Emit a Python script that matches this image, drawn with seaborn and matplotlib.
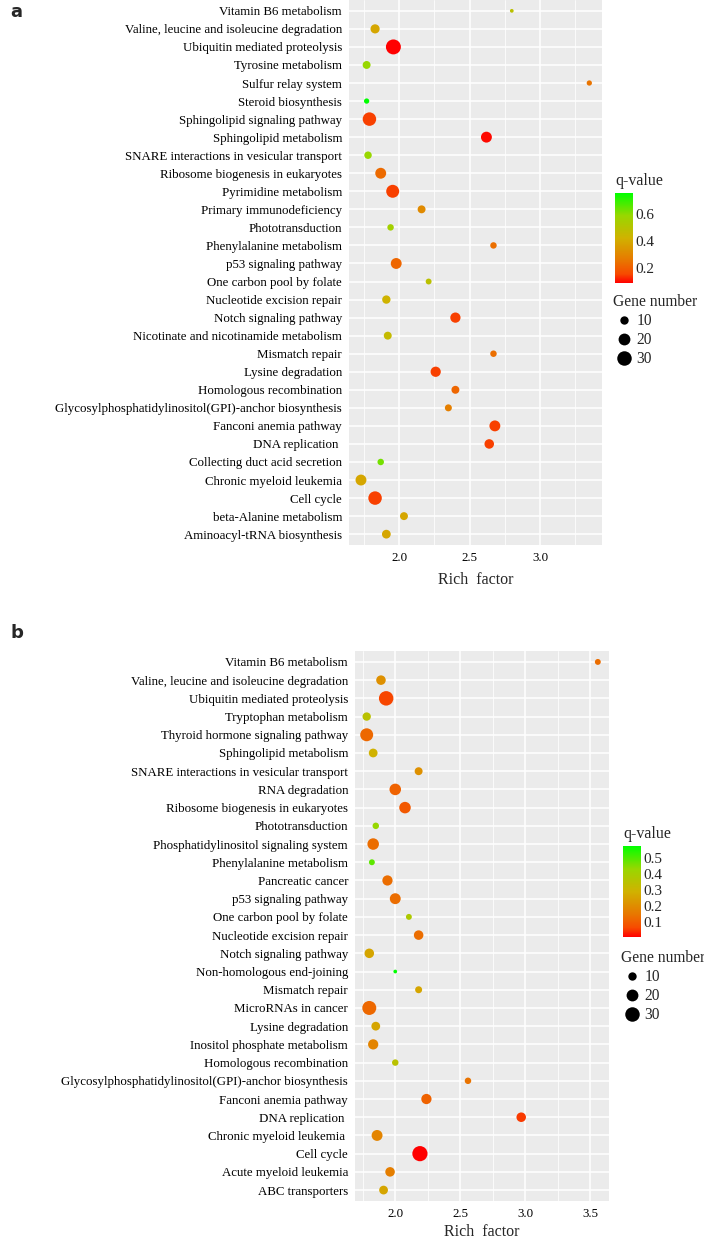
import pandas as pd
import matplotlib.pyplot as plt
import seaborn as sns
from matplotlib.colors import LinearSegmentedColormap, Normalize
from matplotlib.cm import ScalarMappable
from matplotlib.lines import Line2D

# data, panel a (top to bottom)

paths_a = ['Vitamin B6 metabolism', 'Valine, leucine and isoleucine degradation',
           'Ubiquitin mediated proteolysis', 'Tyrosine metabolism', 'Sulfur relay system',
           'Steroid biosynthesis', 'Sphingolipid signaling pathway', 'Sphingolipid metabolism',
           'SNARE interactions in vesicular transport', 'Ribosome biogenesis in eukaryotes',
           'Pyrimidine metabolism', 'Primary immunodeficiency', 'Phototransduction',
           'Phenylalanine metabolism', 'p53 signaling pathway', 'One carbon pool by folate',
           'Nucleotide excision repair', 'Notch signaling pathway',
           'Nicotinate and nicotinamide metabolism', 'Mismatch repair', 'Lysine degradation',
           'Homologous recombination', 'Glycosylphosphatidylinositol(GPI)-anchor biosynthesis',
           'Fanconi anemia pathway', 'DNA replication ', 'Collecting duct acid secretion',
           'Chronic myeloid leukemia', 'Cell cycle', 'beta-Alanine metabolism',
           'Aminoacyl-tRNA biosynthesis']
rich_a = [2.80, 1.83, 1.96, 1.77, 3.35, 1.77, 1.79, 2.62, 1.78, 1.87,
          1.955, 2.16, 1.94, 2.67, 1.98, 2.21, 1.91, 2.40, 1.92, 2.67,
          2.26, 2.40, 2.35, 2.68, 2.64, 1.87, 1.73, 1.83, 2.035, 1.91]
q_a = [0.49, 0.39, 0.09, 0.59, 0.25, 0.76, 0.15, 0.10, 0.59, 0.23,
       0.15, 0.31, 0.56, 0.24, 0.22, 0.49, 0.43, 0.15, 0.46, 0.24,
       0.15, 0.22, 0.28, 0.15, 0.15, 0.63, 0.39, 0.15, 0.39, 0.39]
genes_a = [2, 12, 32, 9, 4, 4, 26, 17, 8, 17,
           24, 9, 6, 6, 17, 5, 10, 15, 9, 6,
           15, 9, 7, 17, 13, 6, 17, 26, 9, 11]

# data, panel b (top to bottom)

paths_b = ['Vitamin B6 metabolism', 'Valine, leucine and isoleucine degradation',
           'Ubiquitin mediated proteolysis', 'Tryptophan metabolism',
           'Thyroid hormone signaling pathway', 'Sphingolipid metabolism',
           'SNARE interactions in vesicular transport', 'RNA degradation',
           'Ribosome biogenesis in eukaryotes', 'Phototransduction',
           'Phosphatidylinositol signaling system', 'Phenylalanine metabolism',
           'Pancreatic cancer', 'p53 signaling pathway', 'One carbon pool by folate',
           'Nucleotide excision repair', 'Notch signaling pathway',
           'Non-homologous end-joining', 'Mismatch repair', 'MicroRNAs in cancer',
           'Lysine degradation', 'Inositol phosphate metabolism', 'Homologous recombination',
           'Glycosylphosphatidylinositol(GPI)-anchor biosynthesis', 'Fanconi anemia pathway',
           'DNA replication ', 'Chronic myeloid leukemia ', 'Cell cycle',
           'Acute myeloid leukemia', 'ABC transporters']
rich_b = [3.56, 1.89, 1.93, 1.78, 1.78, 1.83, 2.18, 2.00, 2.075, 1.85,
          1.83, 1.82, 1.94, 2.00, 2.105, 2.18, 1.80, 2.00, 2.18, 1.80,
          1.85, 1.83, 2.00, 2.56, 2.24, 2.97, 1.86, 2.19, 1.96, 1.91]
q_b = [0.13, 0.21, 0.06, 0.35, 0.12, 0.29, 0.21, 0.11, 0.09, 0.435,
       0.13, 0.49, 0.13, 0.13, 0.38, 0.13, 0.26, 0.578, 0.26, 0.12,
       0.26, 0.18, 0.35, 0.14, 0.11, 0.05, 0.18, 0.005, 0.165, 0.26]
genes_b = [5, 13, 30, 10, 24, 11, 9, 19, 19, 6,
           19, 5, 15, 17, 5, 13, 13, 2, 7, 28,
           11, 15, 6, 6, 15, 13, 17, 33, 13, 11]

df_a = pd.DataFrame({'pathway': paths_a, 'rich': rich_a, 'q': q_a, 'genes': genes_a})
df_b = pd.DataFrame({'pathway': paths_b, 'rich': rich_b, 'q': q_b, 'genes': genes_b})

# style

sns.set_style('darkgrid', {'axes.facecolor': '#EBEBEB', 'grid.color': 'white'})
plt.rcParams['font.family'] = ['Liberation Serif', 'DejaVu Serif']

# red -> green gradient (Lab-like, as ggplot does it)
cmap = LinearSegmentedColormap.from_list(
    'rg', [(0, '#FF0000'), (0.1, '#F74A00'), (0.25, '#E87700'), (0.5, '#D0B200'),
           (0.75, '#98D700'), (1, '#00FF00')])

W, H = 704, 1240
fig = plt.figure(figsize=(W / 100, H / 100), dpi=100)


def fx(px):
    return px / W


def fy(py):
    return 1 - py / H


def panel(df, box, xlim, xticks, qnorm, cbar_box, cbar_ticks, qtitle_y, gtitle_y, leg_x, lpad):
    ax = fig.add_axes(box)
    sns.scatterplot(data=df, x='rich', y='pathway', hue='q', size='genes',
                    palette=cmap, hue_norm=qnorm, sizes=(0, 145), size_norm=(0, 40),
                    linewidth=0, legend=False, ax=ax, zorder=3)
    ax.set_ylim(len(df) - 0.4, -0.6)
    ax.set_xticks(xticks)
    ax.set_xticks([t + 0.25 for t in [xticks[0] - 0.5] + xticks], minor=True)
    ax.set_xlim(*xlim)
    ax.grid(which='major', color='white', lw=1.1)
    ax.grid(which='minor', axis='x', color='white', lw=0.55)
    ax.set_axisbelow(True)
    for s in ax.spines.values():
        s.set_visible(False)
    ax.tick_params(axis='both', which='major', length=3, width=0.8, color='#333333',
                   labelsize=9.3, labelcolor='black', pad=2)
    ax.tick_params(axis='x', which='minor', length=0)
    ax.set_ylabel('')
    ax.set_xlabel('Rich  factor', fontsize=11.5, labelpad=lpad)

    # colorbar for q-value
    cax = fig.add_axes(cbar_box)
    cb = fig.colorbar(ScalarMappable(norm=Normalize(*qnorm), cmap=cmap), cax=cax)
    cb.outline.set_visible(False)
    cb.set_ticks(cbar_ticks)
    cax.tick_params(axis='y', direction='in', color='white', length=3.5, width=0.8,
                    labelsize=11, pad=2, left=True, right=True)
    fig.text(cbar_box[0], fy(qtitle_y), 'q-value', fontsize=11.5, va='center', ha='left')

    # legend for gene number
    handles = [Line2D([], [], marker='o', ls='', color='black', markeredgewidth=0,
                      markersize=(145 * n / 40) ** 0.5) for n in (10, 20, 30)]
    fig.legend(handles, ['10', '20', '30'], title='Gene number', loc='upper left',
               bbox_to_anchor=(leg_x, fy(gtitle_y - 7)), frameon=False, fontsize=11.2,
               title_fontsize=11.2, alignment='left', handletextpad=0.1,
               labelspacing=0.2, borderpad=0, handlelength=1.4, borderaxespad=0)
    return ax


panel(df_a, [fx(349), fy(545), fx(602 - 349), 545 / H], (1.645, 3.44), [2.0, 2.5, 3.0],
      (0.09, 0.76), [fx(615), fy(283), fx(18), 90 / H], [0.2, 0.4, 0.6], 181, 301, fx(613), 6)
panel(df_b, [fx(355), fy(1201), fx(609 - 355), 550 / H], (1.69, 3.646), [2.0, 2.5, 3.0, 3.5],
      (0.005, 0.578), [fx(623), fy(937), fx(18), 91 / H], [0.1, 0.2, 0.3, 0.4, 0.5],
      834, 957, fx(621), 3)

fig.text(fx(10), fy(12), 'a', fontsize=13, fontweight='bold', family='DejaVu Sans',
         va='center', ha='left')
fig.text(fx(10), fy(633), 'b', fontsize=13, fontweight='bold', family='DejaVu Sans',
         va='center', ha='left')

fig.savefig('out.png', dpi=100)
